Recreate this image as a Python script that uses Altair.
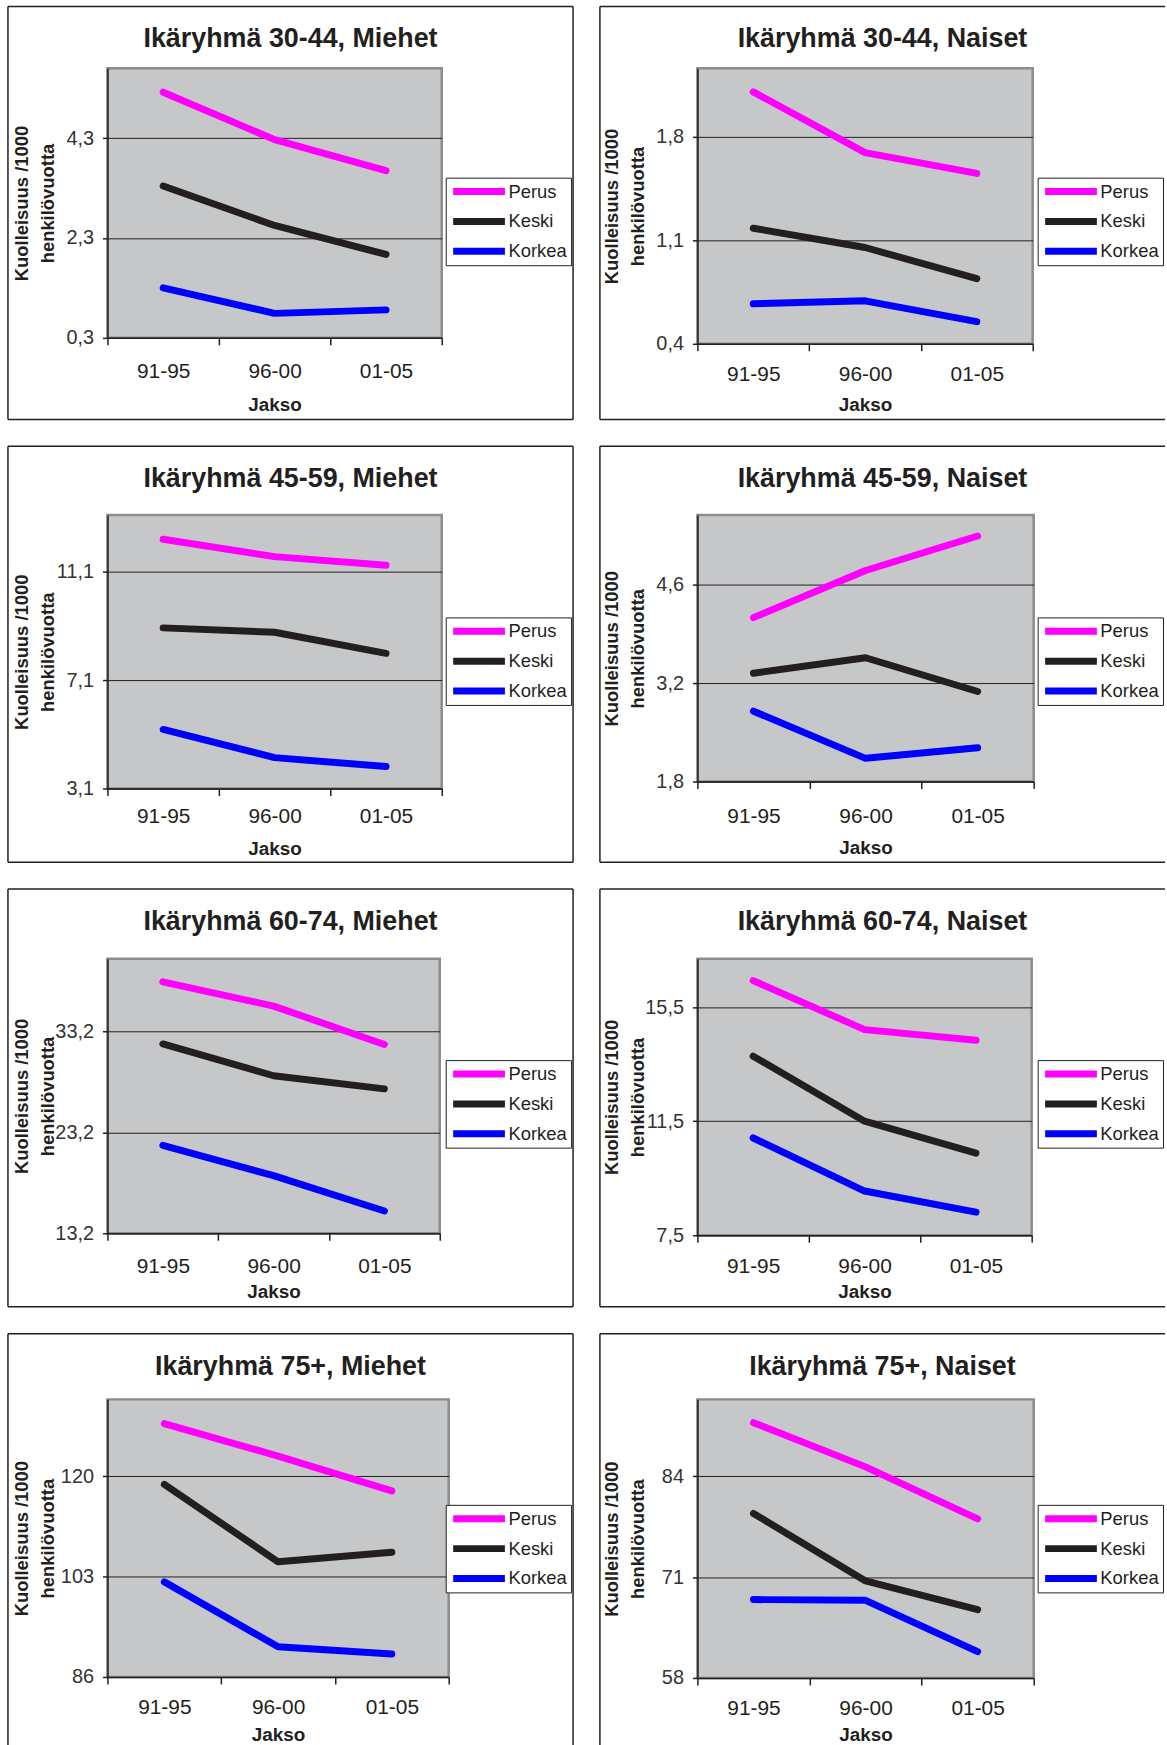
import altair as alt
import pandas as pd

# ---------------- data ----------------
periods = ["91-95", "96-00", "01-05"]
groups = ["Perus", "Keski", "Korkea"]
colors = ["#ff00ff", "#231f20", "#0000ff"]

titles = [
    "Ikäryhmä 30-44, Miehet", "Ikäryhmä 30-44, Naiset",
    "Ikäryhmä 45-59, Miehet", "Ikäryhmä 45-59, Naiset",
    "Ikäryhmä 60-74, Miehet", "Ikäryhmä 60-74, Naiset",
    "Ikäryhmä 75+, Miehet", "Ikäryhmä 75+, Naiset",
]

m3044_perus = [5.22, 4.27, 3.65]
m3044_keski = [3.34, 2.55, 1.97]
m3044_korkea = [1.30, 0.79, 0.86]

n3044_perus = [2.10, 1.69, 1.55]
n3044_keski = [1.18, 1.05, 0.84]
n3044_korkea = [0.67, 0.69, 0.55]

m4559_perus = [12.30, 11.66, 11.34]
m4559_keski = [9.03, 8.87, 8.09]
m4559_korkea = [5.28, 4.24, 3.91]

n4559_perus = [4.13, 4.80, 5.29]
n4559_keski = [3.34, 3.56, 3.08]
n4559_korkea = [2.80, 2.13, 2.28]

m6074_perus = [38.1, 35.7, 31.9]
m6074_keski = [31.95, 28.8, 27.5]
m6074_korkea = [21.9, 18.9, 15.4]

n6074_perus = [16.43, 14.71, 14.34]
n6074_keski = [13.78, 11.5, 10.38]
n6074_korkea = [10.91, 9.05, 8.31]

m75_perus = [128.9, 123.4, 117.5]
m75_keski = [118.6, 105.5, 107.1]
m75_korkea = [102.1, 91.1, 89.9]

n75_perus = [90.9, 85.2, 78.5]
n75_keski = [79.2, 70.5, 66.8]
n75_korkea = [68.1, 68.0, 61.4]

series = [
    [m3044_perus, m3044_keski, m3044_korkea],
    [n3044_perus, n3044_keski, n3044_korkea],
    [m4559_perus, m4559_keski, m4559_korkea],
    [n4559_perus, n4559_keski, n4559_korkea],
    [m6074_perus, m6074_keski, m6074_korkea],
    [n6074_perus, n6074_keski, n6074_korkea],
    [m75_perus, m75_keski, m75_korkea],
    [n75_perus, n75_keski, n75_korkea],
]

y_ticks = [
    [0.3, 2.3, 4.3], [0.4, 1.1, 1.8],
    [3.1, 7.1, 11.1], [1.8, 3.2, 4.6],
    [13.2, 23.2, 33.2], [7.5, 11.5, 15.5],
    [86, 103, 120], [58, 71, 84],
]
y_tops = [5.7, 2.26, 13.2, 5.59, 40.4, 17.2, 133, 93.9]
decimals = [1, 1, 1, 1, 1, 1, 0, 0]

y_title = ["Kuolleisuus /1000", "henkilövuotta"]
x_title = "Jakso"

# ---------------- layout (positions / sizes only) ----------------
plot_w = [336, 337, 336, 338, 334, 336, 343, 338]
plot_h = [271, 277, 275, 268, 276, 278, 279, 280]
row_ft = [-62, -69, -70, -66]          # frame top relative to plot top
row_fh = [415, 418, 420, 440]          # frame height
jakso_y = [67, 61, 60, 66, 59, 57, 57.5, 56.5]   # x-axis title offset below plot
xlab_pad = [27, 24, 21.5, 28.5, 26, 24, 23.5, 24]  # x tick label padding
col_fl = [-100, -98]                   # frame left relative to plot left
col_fw = [568, 568]                    # frame width
HEAD = 20                              # invisible head-room guide above each frame
FONT = "Liberation Sans"
INK = "#231f20"

x_label_expr = " : ".join(
    f"datum.value == {k + 0.5} ? '{p}'" for k, p in enumerate(periods)
) + " : ''"

one = pd.DataFrame({"a": [0]})


def seg(x1, y1, x2, y2, opacity=1):
    return alt.Chart(one).mark_rule(
        stroke=INK, strokeWidth=1.5, strokeOpacity=opacity
    ).encode(
        x=alt.value(x1), y=alt.value(y1), x2=alt.value(x2), y2=alt.value(y2)
    )


def panel(i):
    r, c = divmod(i, 2)
    rows = []
    for g, vals in zip(groups, series[i]):
        for k, (p, v) in enumerate(zip(periods, vals)):
            rows.append({"Jakso": p, "pos": k + 0.5, "Ryhmä": g, "Arvo": v})
    df = pd.DataFrame(rows)
    W, H = plot_w[i], plot_h[i]
    ft, fh, fl, fw = row_ft[r], row_fh[r], col_fl[c], col_fw[c]
    if decimals[i] == 1:
        y_expr = "replace(format(datum.value, '.1f'), '.', ',')"
    else:
        y_expr = "format(datum.value, 'd')"

    x = alt.X(
        "pos:Q",
        scale=alt.Scale(domain=[0, 3], nice=False, zero=False),
        axis=alt.Axis(
            values=[0, 0.5, 1, 1.5, 2, 2.5, 3],
            labelExpr=x_label_expr,
            tickOpacity={"condition": {"test": "datum.value % 1 === 0", "value": 1}, "value": 0},
            tickSize=7, tickWidth=1.5, tickColor=INK,
            domainColor=INK, domainWidth=1.5,
            grid=False,
            labelFont=FONT, labelFontSize=21, labelColor=INK,
            labelBaseline="middle", labelPadding=xlab_pad[i],
            labelOverlap=False, labelFlush=False,
            title=x_title, titleFont=FONT, titleFontSize=19, titleFontWeight="bold",
            titleColor=INK, titleBaseline="middle", titleY=jakso_y[i], titleX=W / 2,
            titleAlign="center",
        ),
    )
    y = alt.Y(
        "Arvo:Q",
        scale=alt.Scale(domain=[y_ticks[i][0], y_tops[i]], nice=False, zero=False),
        axis=alt.Axis(
            values=y_ticks[i],
            labelExpr=y_expr,
            grid=True, gridColor=INK, gridWidth=1,
            tickSize=5, tickWidth=1.5, tickColor=INK,
            domainColor=INK, domainWidth=1.5,
            labelFont=FONT, labelFontSize=20, labelColor="#333333", labelPadding=9,
            title=y_title, titleFont=FONT, titleFontSize=18.5, titleFontWeight="bold",
            titleColor=INK, titleAngle=270, titleBaseline="middle", titleAlign="center",
            titleX=-86, titleY=H / 2, titleLineHeight=26,
        ),
    )
    color = alt.Color(
        "Ryhmä:N",
        scale=alt.Scale(domain=groups, range=colors),
        legend=alt.Legend(
            title=None, orient="none",
            legendX=fl + 440, legendY=ft + 172,
            symbolType="stroke", symbolSize=2704, symbolStrokeWidth=7,
            clipHeight=20, rowPadding=10,
            labelFont=FONT, labelFontSize=18.5, labelColor=INK, labelOffset=0,
            padding=4, strokeColor=INK, fillColor="white",
        ),
    )
    lines = alt.Chart(df).mark_line(
        strokeWidth=7, strokeCap="round", strokeJoin="round"
    ).encode(x=x, y=y, color=color, order="pos:Q")

    # panel frame
    parts = [
        seg(fl, ft - HEAD, fl + 2, ft - HEAD, opacity=0),   # invisible head-room guide
        seg(fl, ft, fl + fw, ft),        # top
        seg(fl, ft, fl, ft + fh),        # left
    ]
    if r < 3:
        parts.append(seg(fl, ft + fh, fl + fw, ft + fh))   # bottom
    if c == 0:
        parts.append(seg(fl + fw, ft, fl + fw, ft + fh))   # right

    title = alt.Chart(one).mark_text(
        text=titles[i], font=FONT, fontSize=27, fontWeight="bold",
        align="center", baseline="alphabetic", color=INK,
    ).encode(
        x=alt.value(fl + 284), y=alt.value(ft + 41),
    )
    return alt.layer(*parts, lines, title).properties(width=W, height=H)


rows = [
    alt.hconcat(panel(2 * r), panel(2 * r + 1), spacing=23).resolve_scale(color="independent")
    for r in range(4)
]
chart = alt.vconcat(*rows, spacing=3).resolve_scale(color="independent").properties(
    padding={"left": 6, "top": -20, "right": 0, "bottom": 0},
    background="white",
).configure_view(
    fill="#c6c7c8", stroke="#8c8c8c", strokeWidth=2.5,
)

chart.save("out.html", embed_options={"renderer": "svg", "actions": False})
